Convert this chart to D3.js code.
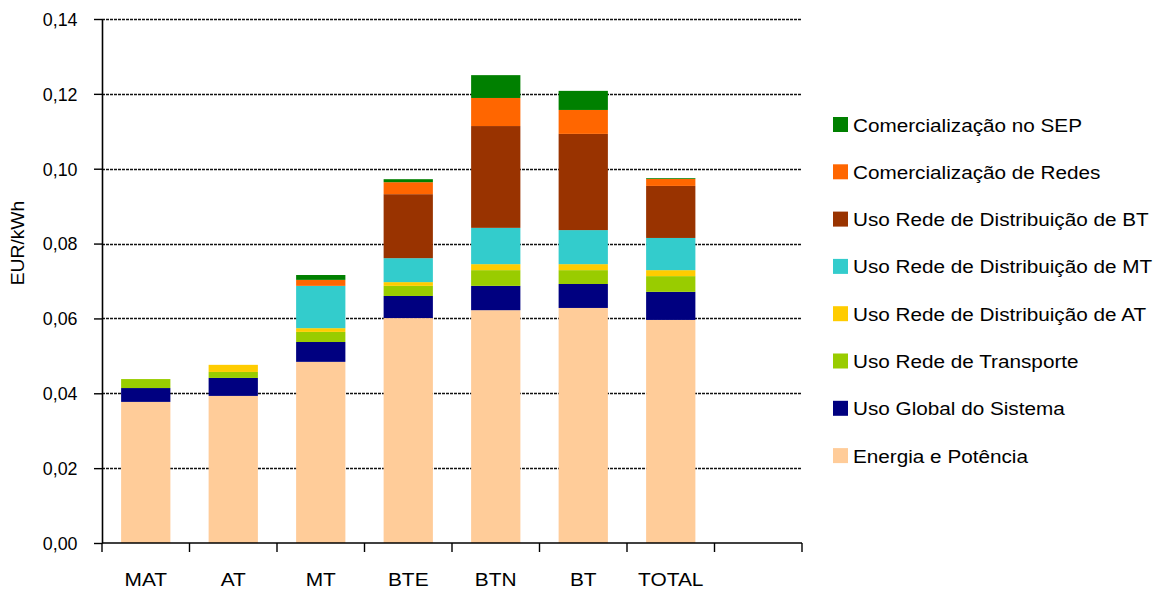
<!DOCTYPE html>
<html>
<head>
<meta charset="utf-8">
<script src="https://cdn.jsdelivr.net/npm/d3@7"></script>
<style>
html,body{margin:0;padding:0;background:#fff;}
svg{display:block;font-family:"Liberation Sans",Arial,sans-serif;}
</style>
</head>
<body>
<svg id="chart" width="1173" height="592"></svg>
<script>
const categories = ["MAT", "AT", "MT", "BTE", "BTN", "BT", "TOTAL"];
const seriesNames = [
  "Energia e Potência",
  "Uso Global do Sistema",
  "Uso Rede de Transporte",
  "Uso Rede de Distribuição de AT",
  "Uso Rede de Distribuição de MT",
  "Uso Rede de Distribuição de BT",
  "Comercialização de Redes",
  "Comercialização no SEP"
];
const seriesColors = ["#FFCC99", "#000080", "#99CC00", "#FFCC00", "#33CCCC", "#993300", "#FF6600", "#008000"];
const energia     = [0.0377, 0.0393, 0.0484, 0.0601, 0.0622, 0.0628, 0.0596];
const usoGlobal   = [0.0037, 0.0048, 0.0053, 0.0059, 0.0065, 0.0064, 0.0075];
const transporte  = [0.0024, 0.0016, 0.0027, 0.0027, 0.0042, 0.0037, 0.0042];
const distAT      = [0.0000, 0.0019, 0.0010, 0.0010, 0.0016, 0.0016, 0.0016];
const distMT      = [0.0000, 0.0000, 0.0113, 0.0064, 0.0097, 0.0091, 0.0086];
const distBT      = [0.0000, 0.0000, 0.0000, 0.0171, 0.0272, 0.0257, 0.0139];
const comRedes    = [0.0000, 0.0000, 0.0016, 0.0032, 0.0075, 0.0064, 0.0019];
const comSEP      = [0.0000, 0.0000, 0.0013, 0.0008, 0.0061, 0.0051, 0.0002];
const yTicks = [0, 0.02, 0.04, 0.06, 0.08, 0.10, 0.12, 0.14];
const yTitle = "EUR/kWh";

const seriesValues = [energia, usoGlobal, transporte, distAT, distMT, distBT, comRedes, comSEP];
const table = categories.map((c, i) => {
  const row = {cat: c};
  seriesNames.forEach((s, j) => row[s] = seriesValues[j][i]);
  return row;
});

const svg = d3.select("#chart");
const mLeft = 102, mRight = 802, mTop = 19, mBottom = 543;
const slots = categories.concat([""]);
const nSlots = slots.length;

const x = d3.scaleBand().domain(slots).range([mLeft, mRight]).paddingInner(0.437).paddingOuter(0.2185);
const xEdge = d3.scaleLinear().domain([0, nSlots]).range([mLeft, mRight]);
const y = d3.scaleLinear().domain([0, 0.14]).range([mBottom, mTop]);

// gridlines
svg.append("g").selectAll("line").data(yTicks.filter(d => d > 0)).join("line")
  .attr("x1", mLeft).attr("x2", mRight)
  .attr("y1", d => Math.round(y(d)) + 0.5).attr("y2", d => Math.round(y(d)) + 0.5)
  .attr("stroke", "#111").attr("stroke-width", 1.5).attr("stroke-dasharray", "3,1");

// bars
const stack = d3.stack().keys(seriesNames);
const stacked = stack(table);
svg.append("g").selectAll("g").data(stacked).join("g")
  .attr("fill", (d, i) => seriesColors[i])
  .selectAll("rect").data(d => d).join("rect")
  .attr("x", d => x(d.data.cat))
  .attr("width", x.bandwidth())
  .attr("y", d => y(d[1]))
  .attr("height", d => Math.max(0, y(d[0]) - y(d[1])));

// y axis
const yAxis = d3.axisLeft(y).tickValues(yTicks).tickSize(8).tickSizeOuter(0)
  .tickFormat(d => d3.format(".2f")(d).replace(".", ","));
const gy = svg.append("g").attr("transform", `translate(${mLeft},0)`).call(yAxis);
gy.select(".domain").attr("stroke", "#000").attr("stroke-width", 1.6);
gy.selectAll(".tick line").attr("stroke", "#000").attr("stroke-width", 1.4);
gy.selectAll(".tick text").attr("x", -24).attr("font-size", 17.5).attr("fill", "#000")
  .attr("font-family", "Liberation Sans, Arial, sans-serif")
  .attr("transform", "scale(1.02,1)").attr("dy", "0.36em");

// x axis
svg.append("line").attr("x1", mLeft).attr("x2", mRight).attr("y1", mBottom).attr("y2", mBottom)
  .attr("stroke", "#000").attr("stroke-width", 1.6);
svg.append("g").selectAll("line").data(d3.range(nSlots + 1)).join("line")
  .attr("x1", d => xEdge(d)).attr("x2", d => xEdge(d))
  .attr("y1", mBottom).attr("y2", mBottom + 9)
  .attr("stroke", "#000").attr("stroke-width", 1.4);
svg.append("g").selectAll("text").data(categories).join("text")
  .attr("transform", d => `translate(${x(d) + x.bandwidth() / 2},586) scale(1.1,1)`)
  .attr("text-anchor", "middle").attr("font-size", 19).attr("fill", "#000")
  .text(d => d);

// y title
svg.append("text")
  .attr("transform", `translate(24,${(mTop + mBottom) / 2 - 38}) rotate(-90) scale(1.1,1)`)
  .attr("text-anchor", "middle").attr("font-size", 17.5).attr("fill", "#000")
  .text(yTitle);

// legend (top to bottom: reversed series order)
const legendItems = seriesNames.map((s, i) => ({name: s, color: seriesColors[i]})).reverse();
const lg = svg.append("g").selectAll("g").data(legendItems).join("g")
  .attr("transform", (d, i) => `translate(833,${117 + i * 47.3})`);
lg.append("rect").attr("width", 15).attr("height", 15).attr("fill", d => d.color);
lg.append("text").attr("transform", "translate(20,14.5) scale(1.12,1)")
  .attr("font-size", 18.5).attr("fill", "#000").text(d => d.name);
</script>
</body>
</html>
